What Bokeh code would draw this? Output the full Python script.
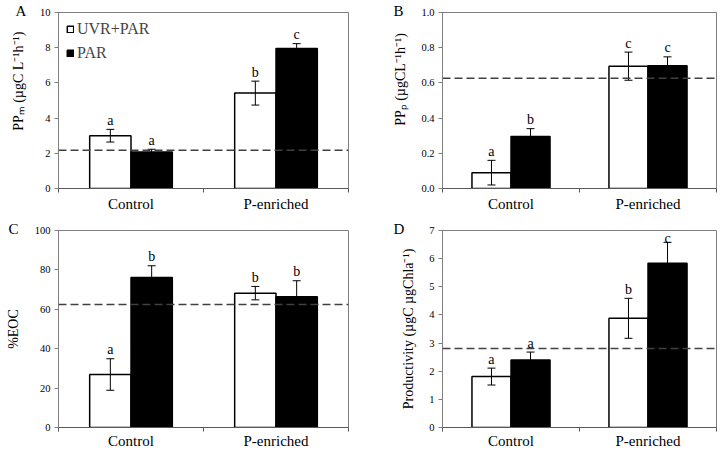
from bokeh.plotting import figure
from bokeh.models import (ColumnDataSource, Range1d, FixedTicker, Span, Whisker,
                          TeeHead, Legend, LegendItem, NumeralTickFormatter)
from bokeh.layouts import column, row
from bokeh.embed import file_html
from bokeh.resources import INLINE
from bokeh.core.properties import value

categories = ["Control", "P-enriched"]
treatments = ["UVR+PAR", "PAR"]

# Panel A: PPM
ppm_uvr = [3.0, 5.42]
ppm_uvr_err = [0.36, 0.68]
ppm_par = [2.08, 7.95]
ppm_par_err = [0.15, 0.28]
ppm_let_uvr = ["a", "b"]
ppm_let_par = ["a", "c"]
ppm_ref = 2.17

# Panel B: PPP
ppp_uvr = [0.09, 0.695]
ppp_uvr_err = [0.07, 0.08]
ppp_par = [0.295, 0.698]
ppp_par_err = [0.045, 0.05]
ppp_let_uvr = ["a", "c"]
ppp_let_par = ["b", "c"]
ppp_ref = 0.627

# Panel C: %EOC
eoc_uvr = [26.9, 68.2]
eoc_uvr_err = [8.0, 3.4]
eoc_par = [76.1, 66.4]
eoc_par_err = [6.0, 8.1]
eoc_let_uvr = ["a", "b"]
eoc_let_par = ["b", "b"]
eoc_ref = 62.5

# Panel D: Productivity
prod_uvr = [1.81, 3.88]
prod_uvr_err = [0.30, 0.71]
prod_par = [2.40, 5.84]
prod_par_err = [0.28, 0.74]
prod_let_uvr = ["a", "b"]
prod_let_par = ["a", "c"]
prod_ref = 2.81

FONT = "Liberation Serif"
BAR_W = 0.285
NB = "\u00a0"


def make_panel(letter, ylabel, y_end, yticks, uvr, uvr_err, par, par_err,
               let_uvr, let_par, ref, width, height, borders, lab_standoff,
               letter_off, x_standoff, fmt=None, legend=False):
    bl, br, bt, bb = borders
    p = figure(width=width, height=height, output_backend="svg", toolbar_location=None,
               x_range=Range1d(0, len(categories)), y_range=Range1d(0, y_end),
               min_border_left=bl, min_border_right=br, min_border_top=bt,
               min_border_bottom=bb)
    p.xgrid.visible = False
    p.ygrid.visible = False
    p.outline_line_color = "#7f7f7f"
    p.outline_line_width = 1
    p.background_fill_color = "white"
    p.border_fill_color = "white"

    # panel letter as a left-aligned title pulled toward the frame corner
    p.title.text = letter
    p.title.align = "left"
    p.title.offset = letter_off
    p.title.standoff = -12
    p.title.text_font = FONT
    p.title.text_font_size = "15px"
    p.title.text_font_style = "normal"
    p.title.text_color = "black"

    renderers = []
    for vals, errs, lets, off, fill in ((uvr, uvr_err, let_uvr, -BAR_W / 2, "white"),
                                        (par, par_err, let_par, BAR_W / 2, "black")):
        upper = [v + e for v, e in zip(vals, errs)]
        src = ColumnDataSource(dict(
            x=[i + 0.5 + off for i in range(len(categories))],
            top=vals,
            upper=upper,
            lower=[v - e for v, e in zip(vals, errs)],
            letter=lets,
            # keep letters that would leave the plot area just above the whisker
            yoff=[-4 if u > 0.92 * y_end else -9 for u in upper],
        ))
        r = p.vbar(x="x", top="top", bottom=0, width=BAR_W, source=src,
                   fill_color=fill, line_color="black", line_width=1.5)
        renderers.append(r)
        w = Whisker(base="x", upper="upper", lower="lower", source=src,
                    line_color="black", line_width=1, level="annotation",
                    upper_head=TeeHead(size=8, line_color="black", line_width=1),
                    lower_head=TeeHead(size=8, line_color="black", line_width=1))
        p.add_layout(w)
        p.text(x="x", y="upper", text="letter", source=src, text_align="center",
               text_baseline="alphabetic", y_offset="yoff", text_font=value(FONT),
               text_font_size=value("14px"), text_color="black")

    p.add_layout(Span(location=ref, dimension="width", line_color="#404040",
                      line_width=1.5, line_dash="8 4"))

    # x axis: category names centred, tick marks on the category boundaries
    xa = p.xaxis[0]
    xa.ticker = FixedTicker(ticks=[i + 0.5 for i in range(len(categories))],
                            minor_ticks=list(range(len(categories) + 1)))
    xa.major_label_overrides = {i + 0.5: c for i, c in enumerate(categories)}
    xa.major_tick_line_color = None
    xa.minor_tick_line_color = "#595959"
    xa.minor_tick_out = 4
    xa.minor_tick_in = 0
    xa.major_tick_out = 4
    xa.major_tick_in = 0
    xa.axis_line_color = "#595959"
    xa.major_label_text_font = FONT
    xa.major_label_text_font_size = "15px"
    xa.major_label_text_color = "black"
    xa.major_label_standoff = x_standoff

    ya = p.yaxis[0]
    ya.ticker = FixedTicker(ticks=yticks, minor_ticks=[])
    if fmt:
        ya.formatter = NumeralTickFormatter(format=fmt)
    ya.major_tick_out = 4
    ya.major_tick_in = 0
    ya.major_tick_line_color = "#7f7f7f"
    ya.axis_line_color = "#7f7f7f"
    ya.major_label_text_font = FONT
    ya.major_label_text_font_size = "10.5px"
    ya.major_label_text_color = "black"
    ya.major_label_standoff = 4
    ya.axis_label = ylabel
    ya.axis_label_text_font = FONT
    ya.axis_label_text_font_size = "14px"
    ya.axis_label_text_font_style = "normal"
    ya.axis_label_text_color = "black"
    ya.axis_label_standoff = lab_standoff

    if legend:
        lg = Legend(items=[LegendItem(label=t, renderers=[r])
                           for t, r in zip(treatments, renderers)],
                    location="top_left")
        lg.border_line_color = None
        lg.background_fill_alpha = 0
        lg.label_text_font = FONT
        lg.label_text_font_size = "16px"
        lg.glyph_width = 8
        lg.glyph_height = 8
        lg.label_standoff = 3
        lg.spacing = 6
        lg.margin = 8
        lg.padding = 4
        p.add_layout(lg)
    return p


pA = make_panel("A", NB * 11 + "PPₘ (µgC L⁻¹h⁻¹)", 10, [0, 2, 4, 6, 8, 10],
                ppm_uvr, ppm_uvr_err, ppm_par, ppm_par_err, ppm_let_uvr, ppm_let_par,
                ppm_ref, 360, 220, (58, 12, 12, 32), 11, -43, 3, legend=True)
pB = make_panel("B", NB * 12 + "PPₚ (µgCL⁻¹h⁻¹)", 1.0, [0, 0.2, 0.4, 0.6, 0.8, 1.0],
                ppp_uvr, ppp_uvr_err, ppp_par, ppp_par_err, ppp_let_uvr, ppp_let_par,
                ppp_ref, 360, 220, (82, 4, 12, 32), 10, -49, 3, fmt="0.0")
pC = make_panel("C", "%EOC", 100, [0, 20, 40, 60, 80, 100],
                eoc_uvr, eoc_uvr_err, eoc_par, eoc_par_err, eoc_let_uvr, eoc_let_par,
                eoc_ref, 360, 232, (58, 12, 10, 25), 11, -50, 1)
pD = make_panel("D", "Productivity (µgC µgChla⁻¹)", 7, [0, 1, 2, 3, 4, 5, 6, 7],
                prod_uvr, prod_uvr_err, prod_par, prod_par_err, prod_let_uvr, prod_let_par,
                prod_ref, 360, 232, (82, 4, 10, 25), 10, -49, 1)

layout = column(row(pA, pB), row(pC, pD))
open("out.html", "w").write(file_html(layout, INLINE))
